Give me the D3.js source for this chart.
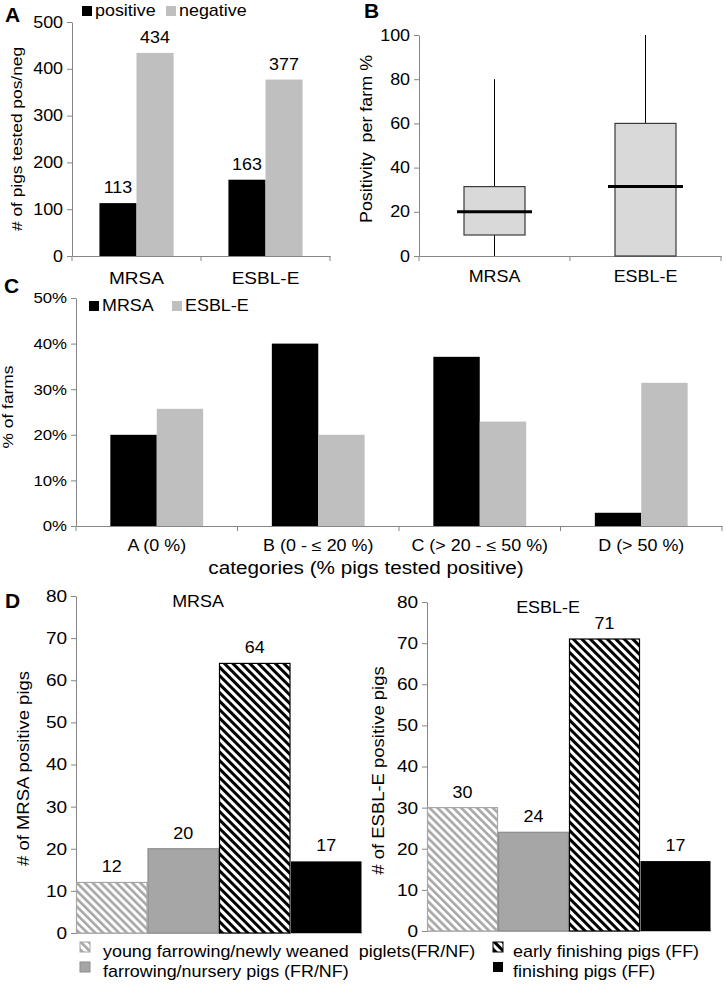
<!DOCTYPE html>
<html>
<head>
<meta charset="utf-8">
<script src="https://cdn.jsdelivr.net/npm/d3@7"></script>
<style>
  body { margin: 0; background: #fff; }
  svg { font-family: "Liberation Sans", Arial, sans-serif; }
  .axis path, .axis line { stroke: #868686; }
  .axis text { fill: #000; }
  .pre { white-space: pre; }
</style>
</head>
<body>
<svg id="chart" width="726" height="986"></svg>
<script>
// panel A
const pathogens = ["MRSA", "ESBL-E"];
const positives = [113, 163];
const negatives = [434, 377];
// panel B (positivity per farm %)
const boxMin = [0, 0];
const boxQ1 = [9.5, 0];
const boxMedian = [20, 31.4];
const boxQ3 = [31.4, 60];
const boxMax = [80, 100];
// panel C
const farmCategories = ["A (0 %)", "B (0 - \u2264 20 %)", "C (> 20 - \u2264 50 %)", "D (> 50 %)"];
const mrsaFarmPct = [20, 40, 37.1, 2.9];
const esblFarmPct = [25.7, 20, 22.9, 31.4];
// panel D
const ageGroups = ["young farrowing/newly weaned  piglets(FR/NF)", "farrowing/nursery pigs (FR/NF)",
                   "early finishing pigs (FF)", "finishing pigs (FF)"];
const mrsaByAge = [12, 20, 64, 17];
const esblByAge = [30, 24, 71, 17];

// the original figure's lettering is a little wide
const SX = 1.12;

const svg = d3.select("#chart");
const defs = svg.append("defs");

function hatch(id, color, w, size) {
    const p = defs.append("pattern")
        .attr("id", id)
        .attr("patternUnits", "userSpaceOnUse")
        .attr("width", size).attr("height", size)
        .attr("patternTransform", "rotate(-45)");
    p.append("rect").attr("width", size).attr("height", size).attr("fill", "#fff");
    p.append("rect").attr("width", w).attr("height", size).attr("fill", color);
}
hatch("hatchGray", "#a6a6a6", 2.6, 5.6);
hatch("hatchBlack", "#000", 3, 6);

const ageFill = ["url(#hatchGray)", "#a6a6a6", "url(#hatchBlack)", "#000"];
const ageStroke = ["#a6a6a6", "#8c8c8c", "#000", "none"];

function txt(x, y, s, size, anchor, rot) {
    return svg.append("text").attr("class", "pre")
        .attr("transform", `translate(${x},${y})` + (rot ? " rotate(-90)" : "") + ` scale(${SX},1)`)
        .attr("text-anchor", anchor || "start")
        .style("font-size", size + "px")
        .text(s);
}

function stretchTicks(g, size) {
    g.selectAll("text").style("font-size", size + "px")
        .attr("transform", `scale(${SX},1)`);
}

function panelLabel(s, x, y) {
    svg.append("text").attr("x", x).attr("y", y)
        .style("font-size", "21px").attr("font-weight", "bold").text(s);
}

// ---------- A ----------
panelLabel("A", 5, 22);
const xA = d3.scaleBand().domain(pathogens).range([72, 330]);
const subA = d3.scaleBand().domain(["pos", "neg"]).range([0, xA.bandwidth()])
    .paddingInner(0).paddingOuter(0.74);
const yA = d3.scaleLinear().domain([0, 500]).range([256, 22]);

svg.append("g").attr("class", "axis").attr("transform", "translate(72,0)")
    .call(d3.axisLeft(yA).ticks(5).tickSize(5).tickSizeOuter(0))
    .call(g => stretchTicks(g, 16));
svg.append("g").attr("class", "axis").attr("transform", "translate(0,256)")
    .call(d3.axisBottom(xA).tickSize(0).tickSizeOuter(0))
    .call(g => stretchTicks(g, 17))
    .call(g => g.selectAll("text").attr("dy", "1.45em"))
    .call(g => g.selectAll(".bnd").data([72, 201, 330]).enter().append("line")
        .attr("x1", d => d).attr("x2", d => d).attr("y1", 0).attr("y2", 5));

const rowsA = pathogens.map((p, i) => ({p: p, pos: positives[i], neg: negatives[i]}));
["pos", "neg"].forEach(k => {
    svg.append("g").selectAll("rect").data(rowsA).enter().append("rect")
        .attr("x", d => xA(d.p) + subA(k))
        .attr("width", subA.bandwidth())
        .attr("y", d => yA(d[k]))
        .attr("height", d => yA(0) - yA(d[k]))
        .attr("fill", k == "pos" ? "#000" : "#bfbfbf");
    rowsA.forEach(d => txt(xA(d.p) + subA(k) + subA.bandwidth() / 2, yA(d[k]) - 10, d[k], 16, "middle"));
});
txt(22, 139, "# of pigs tested pos/neg", 15.5, "middle", true);

// legend A
svg.append("rect").attr("x", 82).attr("y", 6).attr("width", 10).attr("height", 10).attr("fill", "#000");
txt(95, 16, "positive", 16);
svg.append("rect").attr("x", 166).attr("y", 6).attr("width", 10).attr("height", 10).attr("fill", "#bfbfbf");
txt(179, 16, "negative", 16);

// ---------- B ----------
panelLabel("B", 364, 18);
const xB = d3.scaleBand().domain(pathogens).range([419, 721]);
const yB = d3.scaleLinear().domain([0, 100]).range([256, 35]);
svg.append("g").attr("class", "axis").attr("transform", "translate(419,0)")
    .call(d3.axisLeft(yB).ticks(5).tickSize(5).tickSizeOuter(0))
    .call(g => stretchTicks(g, 16));
svg.append("g").attr("class", "axis").attr("transform", "translate(0,256)")
    .call(d3.axisBottom(xB).tickSize(0).tickSizeOuter(0))
    .call(g => stretchTicks(g, 16))
    .call(g => g.selectAll("text").attr("dy", "1.45em"))
    .call(g => g.selectAll(".bnd").data([419, 570, 721]).enter().append("line")
        .attr("x1", d => d).attr("x2", d => d).attr("y1", 0).attr("y2", 5));

const rowsB = pathogens.map((p, i) => ({p: p, min: boxMin[i], q1: boxQ1[i], med: boxMedian[i], q3: boxQ3[i], max: boxMax[i]}));
const cx = d => xB(d.p) + xB.bandwidth() / 2;
const boxes = svg.append("g").selectAll("g").data(rowsB).enter().append("g");
boxes.append("line")
    .attr("x1", cx).attr("x2", cx)
    .attr("y1", d => yB(d.min)).attr("y2", d => yB(d.max))
    .attr("stroke", "#000").attr("stroke-width", 1);
boxes.append("rect")
    .attr("x", d => cx(d) - 30.5).attr("width", 61)
    .attr("y", d => yB(d.q3)).attr("height", d => yB(d.q1) - yB(d.q3))
    .attr("fill", "#d9d9d9").attr("stroke", "#3a3a3a").attr("stroke-width", 1.2);
boxes.append("line")
    .attr("x1", d => cx(d) - 37.5).attr("x2", d => cx(d) + 37.5)
    .attr("y1", d => yB(d.med)).attr("y2", d => yB(d.med))
    .attr("stroke", "#000").attr("stroke-width", 3);
txt(372, 139, "Positivity  per farm %", 16, "middle", true);

// ---------- C ----------
panelLabel("C", 4, 293);
const xC = d3.scaleBand().domain(farmCategories).range([76, 722]);
const subC = d3.scaleBand().domain(["MRSA", "ESBL-E"]).range([0, xC.bandwidth()])
    .paddingInner(0).paddingOuter(0.74);
const yC = d3.scaleLinear().domain([0, 0.5]).range([526, 298]);
svg.append("g").attr("class", "axis").attr("transform", "translate(76,0)")
    .call(d3.axisLeft(yC).ticks(5, "%").tickSize(5).tickSizeOuter(0))
    .call(g => stretchTicks(g, 15));
svg.append("g").attr("class", "axis").attr("transform", "translate(0,526)")
    .call(d3.axisBottom(xC).tickSize(0).tickSizeOuter(0))
    .call(g => stretchTicks(g, 16))
    .call(g => g.selectAll("text").attr("dy", "1.4em"))
    .call(g => g.selectAll(".bnd").data(d3.range(5).map(i => 76 + i * xC.step())).enter().append("line")
        .attr("x1", d => d).attr("x2", d => d).attr("y1", 0).attr("y2", 5));

const rowsC = farmCategories.map((c, i) => ({c: c, "MRSA": mrsaFarmPct[i] / 100, "ESBL-E": esblFarmPct[i] / 100}));
["MRSA", "ESBL-E"].forEach(k => {
    svg.append("g").selectAll("rect").data(rowsC).enter().append("rect")
        .attr("x", d => xC(d.c) + subC(k))
        .attr("width", subC.bandwidth())
        .attr("y", d => yC(d[k]))
        .attr("height", d => yC(0) - yC(d[k]))
        .attr("fill", k == "MRSA" ? "#000" : "#bfbfbf");
});
txt(366, 574, "categories (% pigs tested positive)", 18.5, "middle");
txt(13, 407, "% of farms", 15.5, "middle", true);

svg.append("rect").attr("x", 89).attr("y", 301).attr("width", 10).attr("height", 10).attr("fill", "#000");
txt(102, 311, "MRSA", 16);
svg.append("rect").attr("x", 172).attr("y", 301).attr("width", 10).attr("height", 10).attr("fill", "#bfbfbf");
txt(185, 311, "ESBL-E", 16);

// ---------- D ----------
panelLabel("D", 5, 608);

function agePanel(values, x0, x1, y0, y1, title, titleX, titleY, axisTitle, axisTitleX) {
    const x = d3.scaleBand().domain(ageGroups).range([x0, x1]);
    const y = d3.scaleLinear().domain([0, 80]).range([y0, y1]);
    svg.append("g").attr("class", "axis").attr("transform", `translate(${x0},0)`)
        .call(d3.axisLeft(y).ticks(8).tickSize(5).tickSizeOuter(0))
        .call(g => stretchTicks(g, 17));
    svg.append("line").attr("x1", x0).attr("x2", x1).attr("y1", y0).attr("y2", y0)
        .attr("stroke", "#868686");
    const rows = ageGroups.map((a, i) => ({a: a, v: values[i], i: i}));
    svg.append("g").selectAll("rect").data(rows).enter().append("rect")
        .attr("x", d => x(d.a) + 0.5)
        .attr("width", x.bandwidth() - 1)
        .attr("y", d => y(d.v))
        .attr("height", d => y(0) - y(d.v))
        .attr("fill", d => ageFill[d.i])
        .attr("stroke", d => ageStroke[d.i])
        .attr("stroke-width", 1.2);
    rows.forEach(d => txt(x(d.a) + x.bandwidth() / 2, y(d.v) - 10, d.v, 16, "middle"));
    txt(titleX, titleY, title, 16, "middle");
    txt(axisTitleX, (y0 + y1) / 2 + 4, axisTitle, 16.5, "middle", true);
}
agePanel(mrsaByAge, 76, 362, 933, 596, "MRSA", 198, 607, "# of MRSA positive pigs", 29);
agePanel(esblByAge, 427, 711, 931, 602, "ESBL-E", 548, 613, "# of ESBL-E positive pigs", 384);

// legend D
const legD = [
    {x: 80, y: 942, tx: 103, ty: 957},
    {x: 80, y: 962, tx: 103, ty: 977},
    {x: 493, y: 942, tx: 513, ty: 957},
    {x: 493, y: 962, tx: 513, ty: 977}
];
legD.forEach((l, i) => {
    svg.append("rect").attr("x", l.x).attr("y", l.y).attr("width", 10).attr("height", 10)
        .attr("fill", ageFill[i]).attr("stroke", ageStroke[i]);
    txt(l.tx, l.ty, ageGroups[i], 16);
});
</script>
</body>
</html>
